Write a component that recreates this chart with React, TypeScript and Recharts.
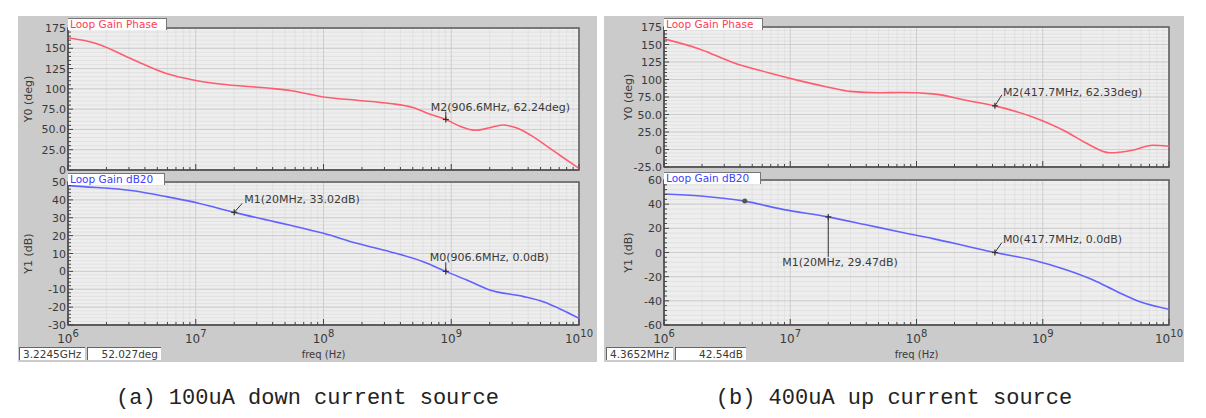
import React from 'react';
import { LineChart, Line, XAxis, YAxis, CartesianGrid, ReferenceArea, ReferenceDot } from 'recharts';

// ---------- frequency axis ----------
const FREQ_MAJOR = [1e6, 1e7, 1e8, 1e9, 1e10];
const MINOR_MULT = [2, 3, 4, 5, 6, 7, 8, 9];
const FREQ_DECADES = [1e6, 1e7, 1e8, 1e9];
const FREQ_MINOR = FREQ_DECADES.flatMap((d) => MINOR_MULT.map((m) => m * d));
const FREQ_ALL = [...FREQ_MAJOR, ...FREQ_MINOR].sort((a, b) => a - b);

// ---------- (a) 100uA down current source ----------
const phaseA_freq = [1e6, 1.66e6, 3.24e6, 5.89e6, 9.55e6, 1.55e7, 3.63e7, 5.5e7, 1e8, 1.82e8, 3.31e8, 5.01e8, 6.76e8, 9.066e8, 1.17e9, 1.55e9, 2.0e9, 2.51e9, 3.22e9, 4.17e9, 5.89e9, 7.41e9, 1e10];
const phaseA_deg = [163, 156, 136, 119, 111, 106, 101, 98, 90, 86, 82, 77, 69, 62.24, 54, 49, 52, 55.5, 52, 43, 27, 16, 2];

const gainA_freq = [1e6, 1.32e6, 3.24e6, 5.89e6, 1.07e7, 2e7, 3.63e7, 5.5e7, 1e8, 1.82e8, 3.31e8, 6.03e8, 9.066e8, 1.32e9, 2.0e9, 3.63e9, 5.25e9, 7.41e9, 1e10];
const gainA_db = [48, 47.4, 45.1, 41.8, 38, 33.02, 28.7, 25.8, 21.3, 15.7, 11, 5.4, 0, -4.8, -10.4, -14, -17, -21.6, -26.3];

// ---------- (b) 400uA up current source ----------
const phaseB_freq = [1e6, 1.95e6, 3.55e6, 6.61e6, 1.2e7, 2e7, 2.95e7, 5e7, 7.41e7, 1.35e8, 2.51e8, 4.177e8, 8.32e8, 1.55e9, 2.24e9, 3.39e9, 5.13e9, 7.41e9, 1e10];
const phaseB_deg = [158, 143, 124, 110, 98, 89, 83, 81, 81.5, 79.4, 70, 62.33, 46.4, 25, 8.5, -4.7, -1, 6, 4.7];

const gainB_freq = [1e6, 1.95e6, 4.3652e6, 8.71e6, 2e7, 4.07e7, 7.41e7, 1.35e8, 2.51e8, 4.177e8, 8.32e8, 1.55e9, 2.51e9, 3.89e9, 5.89e9, 1e10];
const gainB_db = [48.4, 46.8, 42.54, 35.7, 29.47, 22.7, 17, 11.5, 5.2, 0, -6.2, -14.5, -22.8, -32.4, -40.7, -47];

// ---------- y ticks ----------
const phaseA_ticks = [0, 25, 50, 75, 100, 125, 150, 175];
const phaseA_tickLabels = ['0', '25.0', '50.0', '75.0', '100', '125', '150', '175'];
const phaseB_ticks = [-25, 0, 25, 50, 75, 100, 125, 150, 175];
const phaseB_tickLabels = ['-25.0', '0', '25.0', '50.0', '75.0', '100', '125', '150', '175'];
const gainA_ticks = [-30, -20, -10, 0, 10, 20, 30, 40, 50];
const gainA_tickLabels = ['-30', '-20', '-10', '0', '10', '20', '30', '40', '50'];
const gainB_ticks = [-60, -40, -20, 0, 20, 40, 60];
const gainB_tickLabels = ['-60', '-40', '-20', '0', '20', '40', '60'];

// ---------- markers ----------
const markersPhaseA = [{ f: 906.6e6, v: 62.24, text: 'M2(906.6MHz, 62.24deg)' }];
const markersGainA = [
  { f: 20e6, v: 33.02, text: 'M1(20MHz, 33.02dB)' },
  { f: 906.6e6, v: 0, text: 'M0(906.6MHz, 0.0dB)' },
];
const markersPhaseB = [{ f: 417.7e6, v: 62.33, text: 'M2(417.7MHz, 62.33deg)' }];
const markersGainB = [
  { f: 20e6, v: 29.47, text: 'M1(20MHz, 29.47dB)' },
  { f: 417.7e6, v: 0, text: 'M0(417.7MHz, 0.0dB)' },
];
const cursorGainB = { f: 4.3652e6, v: 42.54 };

// label styles (pixel offsets relative to marker point)
const labelStylePhaseA = [{ tx: -15, ty: -8, lx: 0, ly: -8 }];
const labelStyleGainA = [
  { tx: 10, ty: -9, lx: 8, ly: -9 },
  { tx: -16, ty: -10, lx: 0, ly: -9 },
];
const labelStylePhaseB = [{ tx: 8, ty: -10, lx: 7, ly: -11 }];
const labelStyleGainB = [
  { tx: -46, ty: 49, lx: 0, ly: 40 },
  { tx: 8, ty: -9.5, lx: 7, ly: -10 },
];

const FONT = 'DejaVu Sans, sans-serif';
const TEXT = '#3a3a3a';
const PHASE_COLOR = '#ff5c70';
const GAIN_COLOR = '#6262ff';

function zip(f: number[], v: number[]) {
  return f.map((x, i) => ({ f: x, v: v[i] }));
}

function minorSteps(lo: number, hi: number, step: number) {
  const out: number[] = [];
  for (let v = lo; v <= hi + 1e-9; v += step) out.push(Math.round(v * 1000) / 1000);
  return out;
}

const YTick = (props: any) => {
  const { x, y, payload, majors, labels } = props;
  const idx = majors.indexOf(payload.value);
  const major = idx >= 0;
  return (
    <g>
      <line x1={x} x2={x + (major ? 5 : 3)} y1={y} y2={y} stroke="#444" strokeWidth={1} />
      {major && (
        <text x={x - 2} y={y} dy={4} textAnchor="end" fontSize={11} fontFamily={FONT} fill={TEXT}>
          {labels[idx]}
        </text>
      )}
    </g>
  );
};

const XTick = (props: any) => {
  const { x, y, payload, showLabels } = props;
  const v = payload.value;
  const exp = Math.round(Math.log10(v));
  const major = Math.abs(v - Math.pow(10, exp)) < 1e-6 * v;
  return (
    <g>
      <line x1={x} x2={x} y1={y} y2={y - (major ? 6 : 3)} stroke="#444" strokeWidth={1} />
      {major && showLabels && (
        <text x={x} y={y + 18} textAnchor="middle" fontSize={12} fontFamily={FONT} fill={TEXT}>
          10
          <tspan dy={-6} fontSize={10}>
            {exp}
          </tspan>
        </text>
      )}
    </g>
  );
};

const AxisTitle = (props: any) => {
  const { viewBox, text, px } = props;
  const cy = viewBox.y + viewBox.height / 2;
  return (
    <text
      x={px}
      y={cy}
      transform={`rotate(-90 ${px} ${cy})`}
      textAnchor="middle"
      dominantBaseline="central"
      fontSize={11}
      fontFamily={FONT}
      fill={TEXT}
    >
      {text}
    </text>
  );
};

const MarkerShape = (props: any) => {
  const { cx, cy, text, st } = props;
  if (cx == null || cy == null) return null;
  return (
    <g>
      <line x1={cx} y1={cy} x2={cx + st.lx} y2={cy + st.ly} stroke="#333" strokeWidth={1} />
      <line x1={cx - 3} x2={cx + 3} y1={cy} y2={cy} stroke="#333" strokeWidth={1.2} />
      <line x1={cx} x2={cx} y1={cy - 3} y2={cy + 3} stroke="#333" strokeWidth={1.2} />
      <text x={cx + st.tx} y={cy + st.ty} fontSize={11} fontFamily={FONT} fill={TEXT}>
        {text}
      </text>
    </g>
  );
};

const CursorShape = (props: any) => {
  const { cx, cy } = props;
  if (cx == null || cy == null) return null;
  return <circle cx={cx} cy={cy} r={2.5} fill="#555" />;
};

type PlotProps = {
  data: { f: number; v: number }[];
  color: string;
  width: number;
  height: number;
  margin: { top: number; right: number; bottom: number; left: number };
  yWidth: number;
  yDomain: [number, number];
  yTicks: number[];
  yLabels: string[];
  yMinorStep: number;
  yTitle: string;
  yTitleX: number;
  bottom: boolean;
  markers: { f: number; v: number; text: string }[];
  styles: { tx: number; ty: number; lx: number; ly: number }[];
  cursor?: { f: number; v: number };
};

function Plot(p: PlotProps) {
  const yMinor = minorSteps(p.yDomain[0], p.yDomain[1], p.yMinorStep);
  return (
    <LineChart width={p.width} height={p.height} data={p.data} margin={p.margin}>
      <CartesianGrid
        fill="#eeeeee"
        stroke="#dcdcdc"
        strokeWidth={0.7}
        verticalValues={FREQ_MINOR}
        horizontalValues={yMinor}
      />
      <CartesianGrid stroke="#cdcdcd" strokeWidth={1} verticalValues={FREQ_MAJOR} horizontalValues={p.yTicks} />
      <XAxis
        dataKey="f"
        type="number"
        scale="log"
        domain={[1e6, 1e10]}
        allowDataOverflow
        ticks={FREQ_ALL}
        interval={0}
        tickSize={0}
        tickMargin={0}
        tickLine={false}
        axisLine={{ stroke: '#555', strokeWidth: 1.5 }}
        height={p.bottom ? 34 : 1}
        tick={<XTick showLabels={p.bottom} />}
        label={
          p.bottom
            ? { value: 'freq (Hz)', position: 'insideBottom', offset: 1, fontSize: 10, fontFamily: FONT, fill: TEXT }
            : undefined
        }
      />
      <YAxis
        type="number"
        domain={p.yDomain}
        allowDataOverflow
        ticks={[...yMinor]}
        interval={0}
        width={p.yWidth}
        tickSize={0}
        tickMargin={0}
        tickLine={false}
        axisLine={{ stroke: '#555', strokeWidth: 1.5 }}
        tick={<YTick majors={p.yTicks} labels={p.yLabels} />}
        label={<AxisTitle text={p.yTitle} px={p.yTitleX} />}
      />
      <ReferenceArea
        x1={1e6}
        x2={1e10}
        y1={p.yDomain[0]}
        y2={p.yDomain[1]}
        fill="none"
        fillOpacity={0}
        stroke="#5a5a5a"
        strokeWidth={1.5}
      />
      <Line
        type="monotone"
        dataKey="v"
        stroke={p.color}
        strokeWidth={1.6}
        dot={false}
        isAnimationActive={false}
      />
      {p.markers.map((m, i) => (
        <ReferenceDot
          key={i}
          x={m.f}
          y={m.v}
          r={3}
          shape={<MarkerShape text={m.text} st={p.styles[i]} />}
        />
      ))}
      {p.cursor && <ReferenceDot x={p.cursor.f} y={p.cursor.v} r={3} shape={<CursorShape />} />}
    </LineChart>
  );
}

const Tab = ({ left, top, width, text, color }: any) => (
  <div
    style={{
      position: 'absolute',
      left,
      top,
      width,
      height: 11,
      background: '#fff',
      borderTop: '1px solid #777',
      borderRight: '1px solid #777',
      color,
      fontFamily: FONT,
      fontSize: 10.5,
      lineHeight: '11px',
      paddingLeft: 2,
      whiteSpace: 'nowrap',
      overflow: 'hidden',
    }}
  >
    {text}
  </div>
);

const StatusBox = ({ left, top, width, text, align }: any) => (
  <div
    style={{
      position: 'absolute',
      left,
      top,
      width,
      height: 13,
      background: '#fff',
      borderLeft: '1px solid #666',
      borderTop: '1px solid #666',
      fontFamily: FONT,
      fontSize: 10.5,
      lineHeight: '13px',
      color: TEXT,
      textAlign: align,
      paddingLeft: 3,
      paddingRight: 3,
      boxSizing: 'border-box',
      whiteSpace: 'nowrap',
    }}
  >
    {text}
  </div>
);

export default function App() {
  return (
    <div style={{ position: 'absolute', left: 0, top: 0, width: 1206, height: 418, background: '#fff', overflow: 'hidden' }}>
      {/* panel backgrounds */}
      <div style={{ position: 'absolute', left: 18, top: 16, width: 579, height: 346, background: '#cbcbcb' }} />
      <div style={{ position: 'absolute', left: 604, top: 16, width: 580, height: 346, background: '#cbcbcb' }} />

      {/* (a) phase */}
      <div style={{ position: 'absolute', left: 0, top: 0 }}>
        <Plot
          data={zip(phaseA_freq, phaseA_deg)}
          color={PHASE_COLOR}
          width={600}
          height={180}
          margin={{ top: 28, right: 21, bottom: 9, left: 0 }}
          yWidth={68}
          yDomain={[0, 175]}
          yTicks={phaseA_ticks}
          yLabels={phaseA_tickLabels}
          yMinorStep={5}
          yTitle="Y0 (deg)"
          yTitleX={28}
          bottom={false}
          markers={markersPhaseA}
          styles={labelStylePhaseA}
        />
      </div>
      {/* (a) gain */}
      <div style={{ position: 'absolute', left: 0, top: 171 }}>
        <Plot
          data={zip(gainA_freq, gainA_db)}
          color={GAIN_COLOR}
          width={600}
          height={191}
          margin={{ top: 11, right: 21, bottom: 3, left: 0 }}
          yWidth={68}
          yDomain={[-30, 50]}
          yTicks={gainA_ticks}
          yLabels={gainA_tickLabels}
          yMinorStep={2}
          yTitle="Y1 (dB)"
          yTitleX={28}
          bottom={true}
          markers={markersGainA}
          styles={labelStyleGainA}
        />
      </div>

      {/* (b) phase */}
      <div style={{ position: 'absolute', left: 600, top: 0 }}>
        <Plot
          data={zip(phaseB_freq, phaseB_deg)}
          color={PHASE_COLOR}
          width={600}
          height={178}
          margin={{ top: 27, right: 31, bottom: 10, left: 0 }}
          yWidth={64}
          yDomain={[-25, 175]}
          yTicks={phaseB_ticks}
          yLabels={phaseB_tickLabels}
          yMinorStep={5}
          yTitle="Y0 (deg)"
          yTitleX={28.5}
          bottom={false}
          markers={markersPhaseB}
          styles={labelStylePhaseB}
        />
      </div>
      {/* (b) gain */}
      <div style={{ position: 'absolute', left: 600, top: 168 }}>
        <Plot
          data={zip(gainB_freq, gainB_db)}
          color={GAIN_COLOR}
          width={600}
          height={194}
          margin={{ top: 12, right: 31, bottom: 3, left: 0 }}
          yWidth={64}
          yDomain={[-60, 60]}
          yTicks={gainB_ticks}
          yLabels={gainB_tickLabels}
          yMinorStep={4}
          yTitle="Y1 (dB)"
          yTitleX={28.5}
          bottom={true}
          markers={markersGainB}
          styles={labelStyleGainB}
          cursor={cursorGainB}
        />
      </div>

      {/* trace tabs */}
      <Tab left={68} top={18} width={96} text="Loop Gain Phase" color="#ff3c55" />
      <Tab left={68} top={173} width={94} text="Loop Gain dB20" color="#4040ff" />
      <Tab left={664} top={18} width={96} text="Loop Gain Phase" color="#ff3c55" />
      <Tab left={664} top={172} width={94} text="Loop Gain dB20" color="#4040ff" />

      {/* status boxes */}
      <StatusBox left={19} top={347} width={66} text="3.2245GHz" align="left" />
      <StatusBox left={87} top={347} width={74} text="52.027deg" align="right" />
      <StatusBox left={606} top={347} width={67} text="4.3652MHz" align="left" />
      <StatusBox left={675} top={347} width={71} text="42.54dB" align="right" />

      {/* captions */}
      <div
        style={{
          position: 'absolute',
          left: 18,
          top: 386,
          width: 579,
          textAlign: 'center',
          fontFamily: 'Liberation Mono, monospace',
          fontSize: 22,
          color: '#222',
          whiteSpace: 'pre',
        }}
      >
        (a) 100uA down current source
      </div>
      <div
        style={{
          position: 'absolute',
          left: 604,
          top: 386,
          width: 580,
          textAlign: 'center',
          fontFamily: 'Liberation Mono, monospace',
          fontSize: 22,
          color: '#222',
          whiteSpace: 'pre',
        }}
      >
        (b) 400uA up current source
      </div>
    </div>
  );
}
